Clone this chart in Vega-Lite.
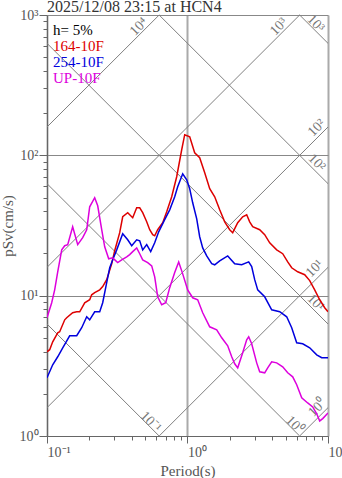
{
  "$schema": "https://vega.github.io/schema/vega-lite/v6.json",
  "width": 281,
  "height": 421,
  "autosize": "none",
  "padding": {"left": 47, "top": 15, "right": 14, "bottom": 42},
  "background": "white",
  "title": {"text": "2025/12/08 23:15 at HCN4", "anchor": "start", "frame": "group", "font": "Liberation Serif", "fontSize": 16, "fontWeight": "normal", "color": "#333", "baseline": "alphabetic", "offset": 0, "dy": 20},
  "config": {"view": {"stroke": null}, "font": "Liberation Serif"},
  "datasets": {
    "curves": [
      {"series":"164-10F","T":0.1,"Sv":3.98},{"series":"164-10F","T":0.1045,"Sv":4.12},{"series":"164-10F","T":0.1098,"Sv":4.69},{"series":"164-10F","T":0.1192,"Sv":5.44},{"series":"164-10F","T":0.1231,"Sv":5.53},{"series":"164-10F","T":0.1337,"Sv":6.73},{"series":"164-10F","T":0.1381,"Sv":6.96},{"series":"164-10F","T":0.1523,"Sv":7.55},{"series":"164-10F","T":0.1627,"Sv":7.68},{"series":"164-10F","T":0.1709,"Sv":7.68},{"series":"164-10F","T":0.1855,"Sv":8.9},{"series":"164-10F","T":0.2013,"Sv":9.35},{"series":"164-10F","T":0.208,"Sv":10.15},{"series":"164-10F","T":0.2185,"Sv":10.5},{"series":"164-10F","T":0.2372,"Sv":11.0},{"series":"164-10F","T":0.2491,"Sv":11.6},{"series":"164-10F","T":0.266,"Sv":13.0},{"series":"164-10F","T":0.2887,"Sv":16.9},{"series":"164-10F","T":0.3033,"Sv":20.9},{"series":"164-10F","T":0.3292,"Sv":28.1},{"series":"164-10F","T":0.3458,"Sv":36.5},{"series":"164-10F","T":0.3753,"Sv":39.0},{"series":"164-10F","T":0.4074,"Sv":35.9},{"series":"164-10F","T":0.4349,"Sv":42.3},{"series":"164-10F","T":0.4569,"Sv":42.3},{"series":"164-10F","T":0.4799,"Sv":39.0},{"series":"164-10F","T":0.5124,"Sv":33.6},{"series":"164-10F","T":0.5383,"Sv":29.5},{"series":"164-10F","T":0.5654,"Sv":27.2},{"series":"164-10F","T":0.5842,"Sv":26.7},{"series":"164-10F","T":0.6136,"Sv":29.5},{"series":"164-10F","T":0.6661,"Sv":33.1},{"series":"164-10F","T":0.7112,"Sv":39.6},{"series":"164-10F","T":0.7719,"Sv":50.7},{"series":"164-10F","T":0.8377,"Sv":70.4},{"series":"164-10F","T":0.9093,"Sv":109.6},{"series":"164-10F","T":0.9552,"Sv":140.3},{"series":"164-10F","T":1.037,"Sv":135.7},{"series":"164-10F","T":1.125,"Sv":104.3},{"series":"164-10F","T":1.221,"Sv":96.1},{"series":"164-10F","T":1.326,"Sv":75.2},{"series":"164-10F","T":1.439,"Sv":57.8},{"series":"164-10F","T":1.562,"Sv":50.7},{"series":"164-10F","T":1.695,"Sv":40.9},{"series":"164-10F","T":1.84,"Sv":33.6},{"series":"164-10F","T":1.997,"Sv":29.5},{"series":"164-10F","T":2.098,"Sv":28.1},{"series":"164-10F","T":2.277,"Sv":33.1},{"series":"164-10F","T":2.471,"Sv":36.5},{"series":"164-10F","T":2.638,"Sv":37.7},{"series":"164-10F","T":2.771,"Sv":33.6},{"series":"164-10F","T":2.911,"Sv":31.0},{"series":"164-10F","T":3.265,"Sv":29.5},{"series":"164-10F","T":3.544,"Sv":27.2},{"series":"164-10F","T":3.846,"Sv":23.8},{"series":"164-10F","T":4.314,"Sv":21.2},{"series":"164-10F","T":4.76,"Sv":19.9},{"series":"164-10F","T":5.167,"Sv":17.4},{"series":"164-10F","T":5.516,"Sv":15.8},{"series":"164-10F","T":6.086,"Sv":14.8},{"series":"164-10F","T":6.826,"Sv":14.1},{"series":"164-10F","T":7.41,"Sv":12.8},{"series":"164-10F","T":8.041,"Sv":11.0},{"series":"164-10F","T":8.73,"Sv":9.35},{"series":"164-10F","T":9.474,"Sv":8.2},{"series":"164-10F","T":10,"Sv":7.68},
      {"series":"254-10F","T":0.1,"Sv":2.6},{"series":"254-10F","T":0.1098,"Sv":3.22},{"series":"254-10F","T":0.1192,"Sv":3.67},{"series":"254-10F","T":0.1294,"Sv":4.25},{"series":"254-10F","T":0.145,"Sv":5.18},{"series":"254-10F","T":0.1627,"Sv":5.18},{"series":"254-10F","T":0.1766,"Sv":5.91},{"series":"254-10F","T":0.1917,"Sv":7.07},{"series":"254-10F","T":0.2013,"Sv":6.73},{"series":"254-10F","T":0.2185,"Sv":7.68},{"series":"254-10F","T":0.2372,"Sv":7.68},{"series":"254-10F","T":0.2491,"Sv":8.9},{"series":"254-10F","T":0.266,"Sv":12.4},{"series":"254-10F","T":0.2795,"Sv":15.8},{"series":"254-10F","T":0.2935,"Sv":18.0},{"series":"254-10F","T":0.3134,"Sv":21.2},{"series":"254-10F","T":0.3458,"Sv":27.6},{"series":"254-10F","T":0.3753,"Sv":25.0},{"series":"254-10F","T":0.4007,"Sv":22.7},{"series":"254-10F","T":0.4349,"Sv":25.0},{"series":"254-10F","T":0.4569,"Sv":24.6},{"series":"254-10F","T":0.4799,"Sv":21.2},{"series":"254-10F","T":0.5124,"Sv":23.1},{"series":"254-10F","T":0.5471,"Sv":20.6},{"series":"254-10F","T":0.5842,"Sv":23.8},{"series":"254-10F","T":0.6237,"Sv":28.5},{"series":"254-10F","T":0.6882,"Sv":34.8},{"series":"254-10F","T":0.747,"Sv":40.9},{"series":"254-10F","T":0.8108,"Sv":50.7},{"series":"254-10F","T":0.8516,"Sv":59.7},{"series":"254-10F","T":0.9244,"Sv":73.9},{"series":"254-10F","T":0.987,"Sv":67.0},{"series":"254-10F","T":1.037,"Sv":57.8},{"series":"254-10F","T":1.089,"Sv":45.9},{"series":"254-10F","T":1.163,"Sv":35.3},{"series":"254-10F","T":1.221,"Sv":26.3},{"series":"254-10F","T":1.283,"Sv":21.9},{"series":"254-10F","T":1.37,"Sv":19.2},{"series":"254-10F","T":1.487,"Sv":16.9},{"series":"254-10F","T":1.562,"Sv":16.6},{"series":"254-10F","T":1.695,"Sv":17.7},{"series":"254-10F","T":1.933,"Sv":19.2},{"series":"254-10F","T":2.168,"Sv":16.9},{"series":"254-10F","T":2.431,"Sv":16.6},{"series":"254-10F","T":2.726,"Sv":17.4},{"series":"254-10F","T":2.863,"Sv":16.1},{"series":"254-10F","T":3.008,"Sv":13.0},{"series":"254-10F","T":3.16,"Sv":11.0},{"series":"254-10F","T":3.544,"Sv":9.82},{"series":"254-10F","T":3.974,"Sv":7.93},{"series":"254-10F","T":4.532,"Sv":7.68},{"series":"254-10F","T":5.082,"Sv":7.07},{"series":"254-10F","T":5.516,"Sv":5.91},{"series":"254-10F","T":5.987,"Sv":4.62},{"series":"254-10F","T":6.606,"Sv":4.54},{"series":"254-10F","T":7.41,"Sv":4.25},{"series":"254-10F","T":8.311,"Sv":3.79},{"series":"254-10F","T":9.02,"Sv":3.61},{"series":"254-10F","T":10,"Sv":3.61},
      {"series":"UP-10F","T":0.1,"Sv":6.96},{"series":"UP-10F","T":0.108,"Sv":8.9},{"series":"UP-10F","T":0.1134,"Sv":11.0},{"series":"UP-10F","T":0.1192,"Sv":14.8},{"series":"UP-10F","T":0.1273,"Sv":21.2},{"series":"UP-10F","T":0.1337,"Sv":22.7},{"series":"UP-10F","T":0.1404,"Sv":23.1},{"series":"UP-10F","T":0.1523,"Sv":31.0},{"series":"UP-10F","T":0.1654,"Sv":23.1},{"series":"UP-10F","T":0.1795,"Sv":25.9},{"series":"UP-10F","T":0.1917,"Sv":29.5},{"series":"UP-10F","T":0.2013,"Sv":43.0},{"series":"UP-10F","T":0.2185,"Sv":49.9},{"series":"UP-10F","T":0.2296,"Sv":43.7},{"series":"UP-10F","T":0.2451,"Sv":29.5},{"series":"UP-10F","T":0.2575,"Sv":22.3},{"series":"UP-10F","T":0.2749,"Sv":18.3},{"series":"UP-10F","T":0.2935,"Sv":18.6},{"series":"UP-10F","T":0.3185,"Sv":17.2},{"series":"UP-10F","T":0.3402,"Sv":18.0},{"series":"UP-10F","T":0.3692,"Sv":18.9},{"series":"UP-10F","T":0.3878,"Sv":19.6},{"series":"UP-10F","T":0.4074,"Sv":20.6},{"series":"UP-10F","T":0.4349,"Sv":21.9},{"series":"UP-10F","T":0.4569,"Sv":19.9},{"series":"UP-10F","T":0.4799,"Sv":18.0},{"series":"UP-10F","T":0.5209,"Sv":17.2},{"series":"UP-10F","T":0.5562,"Sv":16.3},{"series":"UP-10F","T":0.5842,"Sv":13.6},{"series":"UP-10F","T":0.6136,"Sv":9.82},{"series":"UP-10F","T":0.6552,"Sv":8.61},{"series":"UP-10F","T":0.6996,"Sv":8.9},{"series":"UP-10F","T":0.747,"Sv":11.4},{"series":"UP-10F","T":0.8108,"Sv":14.6},{"series":"UP-10F","T":0.8657,"Sv":17.4},{"series":"UP-10F","T":0.9244,"Sv":14.3},{"series":"UP-10F","T":1.003,"Sv":11.0},{"series":"UP-10F","T":1.089,"Sv":9.66},{"series":"UP-10F","T":1.182,"Sv":9.35},{"series":"UP-10F","T":1.283,"Sv":7.55},{"series":"UP-10F","T":1.439,"Sv":6.0},{"series":"UP-10F","T":1.614,"Sv":5.71},{"series":"UP-10F","T":1.752,"Sv":5.01},{"series":"UP-10F","T":1.933,"Sv":4.39},{"series":"UP-10F","T":2.064,"Sv":3.67},{"series":"UP-10F","T":2.168,"Sv":3.27},{"series":"UP-10F","T":2.277,"Sv":3.06},{"series":"UP-10F","T":2.471,"Sv":3.92},{"series":"UP-10F","T":2.638,"Sv":4.85},{"series":"UP-10F","T":2.726,"Sv":5.09},{"series":"UP-10F","T":2.863,"Sv":4.54},{"series":"UP-10F","T":3.108,"Sv":3.32},{"series":"UP-10F","T":3.265,"Sv":2.87},{"series":"UP-10F","T":3.544,"Sv":2.82},{"series":"UP-10F","T":3.722,"Sv":3.06},{"series":"UP-10F","T":3.974,"Sv":3.38},{"series":"UP-10F","T":4.314,"Sv":3.32},{"series":"UP-10F","T":4.76,"Sv":3.11},{"series":"UP-10F","T":5.167,"Sv":2.82},{"series":"UP-10F","T":5.609,"Sv":2.64},{"series":"UP-10F","T":5.987,"Sv":2.32},{"series":"UP-10F","T":6.5,"Sv":1.87},{"series":"UP-10F","T":7.17,"Sv":1.72},{"series":"UP-10F","T":7.783,"Sv":1.61},{"series":"UP-10F","T":8.311,"Sv":1.44},{"series":"UP-10F","T":8.73,"Sv":1.28},{"series":"UP-10F","T":9.17,"Sv":1.33},{"series":"UP-10F","T":10,"Sv":1.46}
    ],
    "guides": [
      {"g":"a0","T":6.2832,"Sv":1},{"g":"a0","T":10,"Sv":1.5915},
      {"g":"a1","T":0.62832,"Sv":1},{"g":"a1","T":10,"Sv":15.915},
      {"g":"a2","T":0.1,"Sv":1.5915},{"g":"a2","T":10,"Sv":159.15},
      {"g":"a3","T":0.1,"Sv":15.915},{"g":"a3","T":6.2832,"Sv":1000},
      {"g":"a4","T":0.1,"Sv":159.15},{"g":"a4","T":0.62832,"Sv":1000},
      {"g":"dm1","T":0.1,"Sv":6.2832},{"g":"dm1","T":0.62832,"Sv":1},
      {"g":"d0","T":0.1,"Sv":62.832},{"g":"d0","T":6.2832,"Sv":1},
      {"g":"d1","T":0.1,"Sv":628.32},{"g":"d1","T":10,"Sv":6.2832},
      {"g":"d2","T":0.62832,"Sv":1000},{"g":"d2","T":10,"Sv":62.832},
      {"g":"d3","T":6.2832,"Sv":1000},{"g":"d3","T":10,"Sv":628.32}
    ],
    "glabels": [
      {"lab":"10⁴","kind":"a","T":0.45,"Sv":825},
      {"lab":"10³","kind":"a","T":4.46,"Sv":825},
      {"lab":"10²","kind":"a","T":8.31,"Sv":157},
      {"lab":"10¹","kind":"a","T":8.04,"Sv":15.6},
      {"lab":"10⁰","kind":"a","T":8.41,"Sv":1.59},
      {"lab":"10³","kind":"d","T":8.17,"Sv":867},
      {"lab":"10²","kind":"d","T":8.31,"Sv":88.6},
      {"lab":"10¹","kind":"d","T":8.17,"Sv":8.9},
      {"lab":"10⁰","kind":"d","T":5.79,"Sv":1.2},
      {"lab":"10⁻¹","kind":"d","T":0.547,"Sv":1.26}
    ]
  },
  "encoding": {
    "x": {"field": "T", "type": "quantitative",
      "scale": {"type": "log", "domain": [0.1, 10], "nice": false},
      "axis": {
        "values": [0.1,0.2,0.3,0.4,0.5,0.6,0.7,0.8,0.9,1,2,3,4,5,6,7,8,9,10],
        "labelExpr": "abs(datum.value-0.1)<0.001 ? '10⁻¹' : abs(datum.value-1)<0.001 ? '10⁰' : abs(datum.value-10)<0.001 ? '10¹' : ''",
        "labelAlign": "left", "labelDx": -7, "labelFont": "Liberation Serif", "labelFontSize": 14, "labelColor": "#555",
        "labelPadding": 2, "labelOverlap": false, "labelFlush": false,
        "tickSize": {"condition": {"test": "abs(log(datum.value)/LN10 - round(log(datum.value)/LN10)) < 0.01", "value": 7}, "value": 4},
        "tickColor": "#666", "domainColor": "#666",
        "grid": true, "gridColor": "#aaaaaa", "gridWidth": 2,
        "gridOpacity": {"condition": {"test": "abs(log(datum.value)/LN10 - round(log(datum.value)/LN10)) < 0.01", "value": 1}, "value": 0},
        "title": "Period(s)", "titleFont": "Liberation Serif", "titleFontSize": 15, "titleFontWeight": "normal", "titleColor": "#555", "titlePadding": 4
      }
    },
    "y": {"field": "Sv", "type": "quantitative",
      "scale": {"type": "log", "domain": [1, 1000], "nice": false},
      "axis": {
        "values": [1,2,3,4,5,6,7,8,9,10,20,30,40,50,60,70,80,90,100,200,300,400,500,600,700,800,900,1000],
        "labelExpr": "abs(datum.value-1)<0.001 ? '10⁰' : abs(datum.value-10)<0.001 ? '10¹' : abs(datum.value-100)<0.01 ? '10²' : abs(datum.value-1000)<0.1 ? '10³' : ''",
        "labelFont": "Liberation Serif", "labelFontSize": 14, "labelColor": "#555",
        "labelPadding": 1, "labelOverlap": false, "labelFlush": false,
        "tickSize": {"condition": {"test": "abs(log(datum.value)/LN10 - round(log(datum.value)/LN10)) < 0.01", "value": 8}, "value": 4},
        "tickColor": "#666", "domainColor": "#666",
        "grid": true, "gridColor": "#888888", "gridWidth": 1,
        "gridOpacity": {"condition": {"test": "abs(log(datum.value)/LN10 - round(log(datum.value)/LN10)) < 0.01", "value": 1}, "value": 0},
        "title": "pSv(cm/s)", "titleFont": "Liberation Serif", "titleFontSize": 15, "titleFontWeight": "normal", "titleColor": "#555", "titlePadding": 4
      }
    }
  },
  "layer": [
    {
      "data": {"name": "guides"},
      "mark": {"type": "line", "color": "#808080", "strokeWidth": 1},
      "encoding": {"detail": {"field": "g", "type": "nominal"}}
    },
    {
      "data": {"name": "glabels"},
      "transform": [{"filter": "datum.kind == 'a'"}],
      "mark": {"type": "text", "angle": -45, "font": "Liberation Serif", "fontSize": 14, "color": "#777", "align": "center", "baseline": "middle"},
      "encoding": {"text": {"field": "lab", "type": "nominal"}}
    },
    {
      "data": {"name": "glabels"},
      "transform": [{"filter": "datum.kind == 'd'"}],
      "mark": {"type": "text", "angle": 45, "font": "Liberation Serif", "fontSize": 14, "color": "#777", "align": "center", "baseline": "middle"},
      "encoding": {"text": {"field": "lab", "type": "nominal"}}
    },
    {
      "data": {"name": "curves"},
      "mark": {"type": "line", "clip": true, "strokeWidth": 1.5},
      "encoding": {
        "color": {"field": "series", "type": "nominal",
          "scale": {"domain": ["164-10F", "254-10F", "UP-10F"], "range": ["#dd0000", "#0000dd", "#dd00dd"]},
          "legend": {
            "title": "h= 5%", "orient": "none", "legendX": 6, "legendY": 8,
            "titleFont": "Liberation Serif", "titleFontSize": 15, "titleFontWeight": "normal", "titleColor": "black", "titlePadding": 0,
            "labelFont": "Liberation Serif", "labelFontSize": 15, "labelOffset": -15,
            "symbolSize": 0, "symbolOpacity": 0, "symbolStrokeWidth": 0, "rowPadding": -1, "padding": 0,
            "encode": {"labels": {"update": {"fill": {"scale": "color", "field": "value"}}}}
          }
        }
      }
    }
  ]
}
